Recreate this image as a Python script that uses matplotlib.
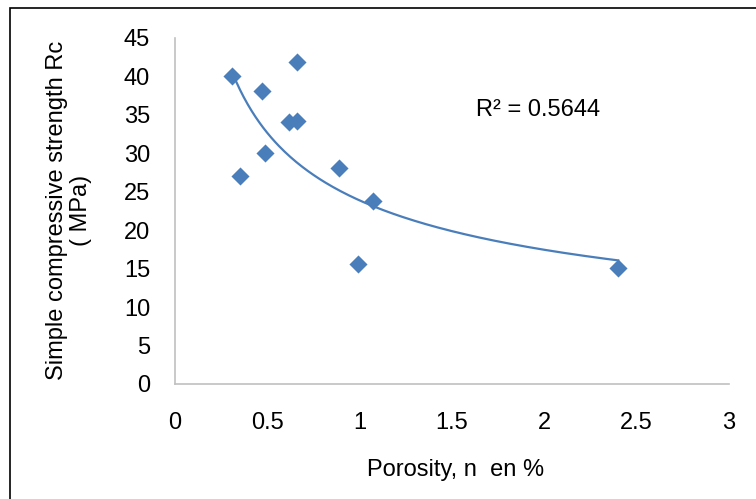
import numpy as np
import matplotlib.pyplot as plt
from matplotlib.patches import Rectangle

plt.rcParams["font.family"] = ["Liberation Sans", "DejaVu Sans"]

# porosity (%) and simple compressive strength Rc (MPa)
porosity = [0.31, 0.35, 0.47, 0.49, 0.62, 0.66, 0.66, 0.89, 1.07, 0.99, 2.40]
strength = [40.0, 27.0, 38.1, 30.0, 34.1, 34.2, 41.9, 28.1, 23.8, 15.6, 15.1]
r2_text = "R² = 0.5644"

blue = "#4a7ebb"
fs = 17

fig = plt.figure(figsize=(7.56, 4.99), dpi=100)
ax = fig.add_axes([175 / 756, 1 - 384 / 499, 554 / 756, 346 / 499])

ax.scatter(porosity, strength, marker="D", s=85, color=blue, zorder=3, linewidths=0)

# power trendline like Excel: y = c * x^k (fit in log-log space)
x = np.array(porosity)
k, lnc = np.polyfit(np.log(x), np.log(np.array(strength)), 1)
xs = np.linspace(x.min(), x.max(), 200)
ax.plot(xs, np.exp(lnc) * xs ** k, color=blue, lw=1.6, zorder=2)

ax.text(1.965, 35.6, r2_text, fontsize=fs, ha="center", va="center")

ax.set_xlim(0, 3)
ax.set_ylim(0, 45)
ax.set_xticks([0, 0.5, 1, 1.5, 2, 2.5, 3])
ax.set_xticklabels(["0", "0.5", "1", "1.5", "2", "2.5", "3"])
ax.set_yticks(range(0, 50, 5))
ax.tick_params(length=0, labelsize=fs)
ax.tick_params(axis="x", pad=20)
ax.tick_params(axis="y", pad=18)

for s in ["top", "right"]:
    ax.spines[s].set_visible(False)
for s in ["left", "bottom"]:
    ax.spines[s].set_color("#c0c0c0")
    ax.spines[s].set_linewidth(1.2)

fig.text(69 / 756, 1 - 210 / 499, "Simple compressive strength Rc\n( MPa)",
         rotation=90, ha="center", va="center", fontsize=fs, multialignment="center",
         linespacing=1.1)
fig.text(456 / 756, 1 - 470 / 499, "Porosity, n  en %", ha="center", va="center", fontsize=fs)

# outer frame of the chart area (only top and left visible)
fig.patches.append(Rectangle((10 / 756, -0.1), 1.2, 1.1 - 8 / 499, transform=fig.transFigure,
                             fill=False, edgecolor="black", lw=1.2))

fig.savefig("out.png", dpi=100)
